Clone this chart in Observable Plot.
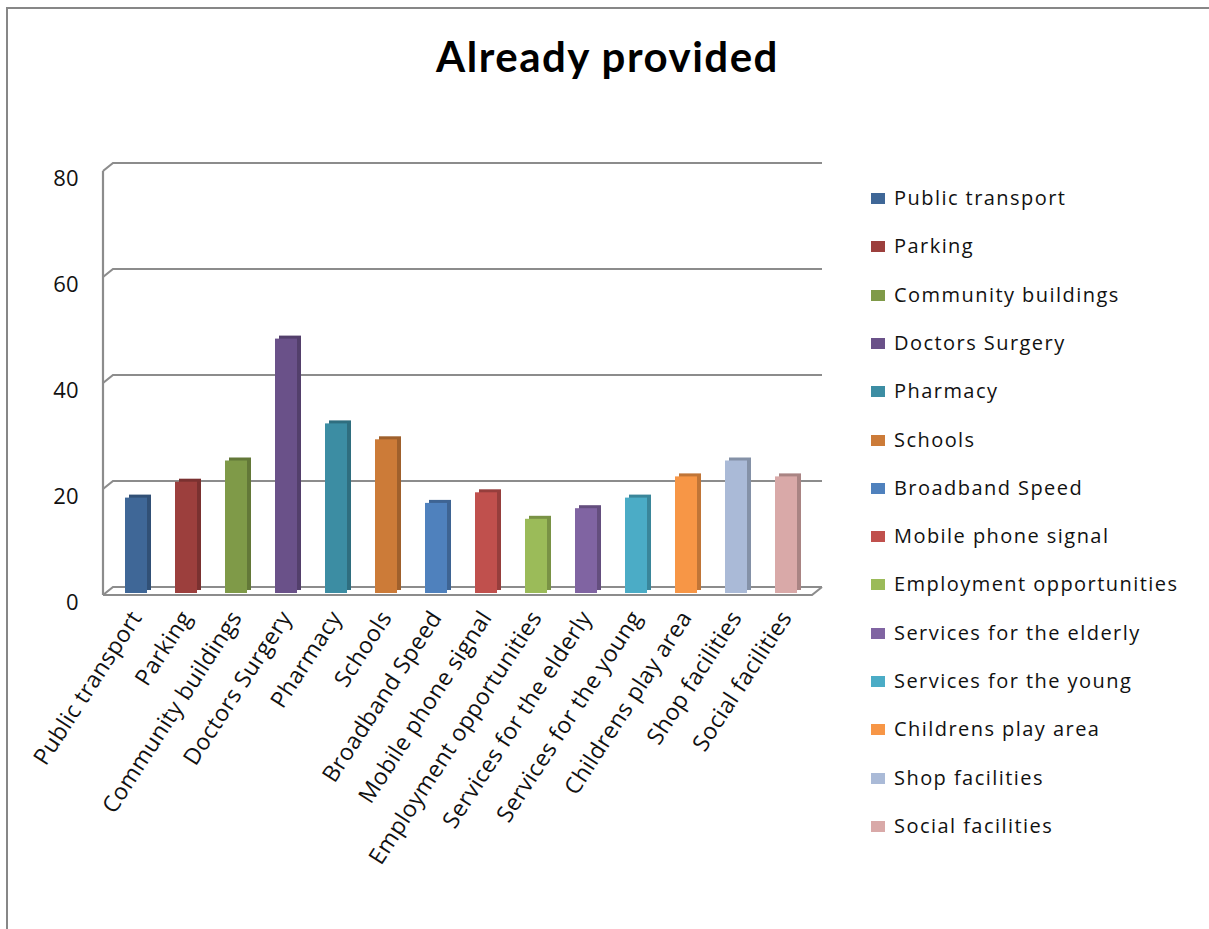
<!DOCTYPE html>
<html>
<head>
<meta charset="utf-8">
<script src="https://cdn.jsdelivr.net/npm/d3@7"></script>
<script src="https://cdn.jsdelivr.net/npm/@observablehq/plot@0.6"></script>
<style>
  html, body { margin: 0; padding: 0; background: #fff; }
  #wrap { position: relative; width: 1209px; height: 929px; overflow: hidden; font-family: "Open Sans", sans-serif; }
  #border { position: absolute; left: 6px; top: 7px; width: 1209px; height: 940px; border-left: 2px solid #878787; border-top: 2px solid #878787; box-sizing: border-box; }
  #title { position: absolute; left: 0; width: 1215px; top: 31px; text-align: center; font-family: "Lato", sans-serif; font-weight: bold; font-size: 42px; letter-spacing: 1.5px; color: #000; }
  #chart { position: absolute; left: 0; top: 0; }
  #legend { position: absolute; left: 871px; top: 0; }
  .li { position: absolute; left: 0; white-space: nowrap; font-size: 20px; letter-spacing: 1.45px; color: #111; }
  .sw { position: absolute; left: 0; width: 14px; height: 11px; }
  .lt { position: absolute; left: 23px; }
</style>
</head>
<body>
<div id="wrap">
  <div id="border"></div>
  <div id="chart"></div>
  <div id="title">Already provided</div>
  <div id="legend"></div>
</div>
<script>
const categories = [
  "Public transport", "Parking", "Community buildings", "Doctors Surgery", "Pharmacy",
  "Schools", "Broadband Speed", "Mobile phone signal", "Employment opportunities",
  "Services for the elderly", "Services for the young", "Childrens play area",
  "Shop facilities", "Social facilities"
];
const values = [18, 21, 25, 48, 32, 29, 17, 19, 14, 16, 18, 22, 25, 22];
const colors = [
  "#3f6797", "#9c3f3d", "#7f9a48", "#6a5189", "#3c8da3", "#cc7b38", "#4f81bd",
  "#c0504d", "#9bbb59", "#8064a2", "#4bacc6", "#f79646", "#aabad7", "#d9a9a8"
];
const yTicks = [0, 20, 40, 60, 80];

const data = categories.map((c, i) => ({category: c, value: values[i], color: colors[i], side: d3.color(colors[i]).darker(0.7).formatHex()}));

// 3D walls drawn from the library's y scale
function walls(index, scales, values, dimensions) {
  const g = d3.create("svg:g").attr("fill", "none").attr("stroke", "#8c8c8c").attr("stroke-width", 2.2);
  const x0 = dimensions.marginLeft - 4;
  const x1 = dimensions.width - dimensions.marginRight;
  const y = scales.y;
  g.append("line").attr("x1", x0).attr("x2", x0).attr("y1", y(80) + 2).attr("y2", y(0) + 2);
  for (const v of yTicks) {
    g.append("path").attr("d", `M${x0},${y(v) + 2}L${x0 + 10},${y(v) - 6}L${x1 + 7},${y(v) - 6}`);
  }
  g.append("path").attr("d", `M${x0},${y(0) + 2}L${x1 - 3},${y(0) + 2}L${x1 + 7},${y(0) - 6}`);
  return g.node();
}

const plot = Plot.plot({
  width: 1209,
  height: 929,
  marginLeft: 107,
  marginRight: 394,
  marginTop: 169,
  marginBottom: 336,
  style: {fontFamily: "Open Sans, sans-serif", fontSize: "20px", color: "#111", background: "transparent", overflow: "visible"},
  x: {domain: categories, paddingInner: 0.56, paddingOuter: 0.28, tickRotate: -57, tickSize: 0, tickPadding: 20, label: null},
  y: {domain: [0, 80], ticks: yTicks, tickSize: 0, tickPadding: 29, label: null, tickFormat: d3.format("d")},
  marks: [
    walls,
    Plot.barY(data, {x: "category", y: "value", fill: "side", dx: 4, dy: -3}),
    Plot.barY(data, {x: "category", y: "value", fill: "color"})
  ]
});
plot.querySelectorAll("g[aria-label^='y-axis'] text").forEach(t => {
  t.setAttribute("dy", "0.45em");
  t.setAttribute("font-size", "22px");
  t.style.fontSize = "22px";
});
plot.querySelectorAll("g[aria-label^='x-axis'] text").forEach(t => {
  t.setAttribute("font-size", "23px");
  t.style.fontSize = "23px";
  t.style.letterSpacing = "0.4px";
});
document.getElementById("chart").appendChild(plot);

const legend = d3.select("#legend");
categories.forEach((c, i) => {
  const row = legend.append("div").attr("class", "li").style("top", (184 + i * 48.3) + "px");
  row.append("div").attr("class", "sw").style("top", "9px").style("background", colors[i]);
  row.append("div").attr("class", "lt").text(c);
});
</script>
</body>
</html>
